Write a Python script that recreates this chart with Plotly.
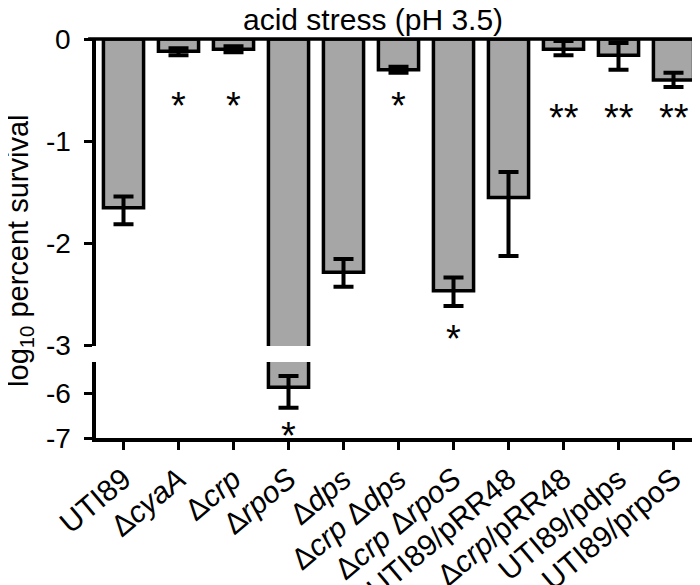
import plotly.graph_objects as go

categories = ["UTI89", "Δ<i>cyaA</i>", "Δ<i>crp</i>", "Δ<i>rpoS</i>", "Δ<i>dps</i>",
              "Δ<i>crp</i> Δ<i>dps</i>", "Δ<i>crp</i> Δ<i>rpoS</i>", "UTI89/pRR48",
              "Δ<i>crp</i>/pRR48", "UTI89/pdps", "UTI89/prpoS"]
values = [-1.65, -0.12, -0.10, -5.87, -2.28, -0.30, -2.46, -1.55, -0.10, -0.16, -0.40]
err_plus = [0.11, 0.03, 0.03, 0.25, 0.13, 0.03, 0.13, 0.25, 0.08, 0.12, 0.07]
err_minus = [0.16, 0.04, 0.03, 0.46, 0.14, 0.03, 0.15, 0.57, 0.06, 0.14, 0.07]
stars = ["", "*", "*", "*", "", "*", "*", "", "**", "**", "**"]
star_y = [None, -0.57, -0.57, -6.75, None, -0.57, -2.84, None, -0.68, -0.68, -0.68]

top_ticks = [0, -1, -2, -3]
bottom_ticks = [-6, -7]
break_low = -3
break_high = -5.31

FONT = "Liberation Sans, Arial, sans-serif"
GRAY = "#a6a6a6"

x = list(range(len(categories)))
broken = [v < break_low for v in values]

top_y = values
top_ep = [0 if b else e for b, e in zip(broken, err_plus)]
top_em = [0 if b else e for b, e in zip(broken, err_minus)]
bot_y = [v if b else None for b, v in zip(broken, values)]

fig = go.Figure()
fig.add_trace(go.Bar(
    x=x, y=top_y, width=0.73, marker=dict(color=GRAY, line=dict(color="black", width=3.5)),
    error_y=dict(type="data", symmetric=False, array=top_ep, arrayminus=top_em,
                 color="black", thickness=4, width=10),
    xaxis="x", yaxis="y", showlegend=False))
fig.add_trace(go.Bar(
    x=x, y=bot_y, width=0.73, marker=dict(color=GRAY, line=dict(color="black", width=3.5)),
    error_y=dict(type="data", symmetric=False, array=err_plus, arrayminus=err_minus,
                 color="black", thickness=4, width=10),
    xaxis="x", yaxis="y2", showlegend=False))

annotations = []
for xi, s, sy, b in zip(x, stars, star_y, broken):
    if s:
        annotations.append(dict(x=xi, y=sy, xref="x", yref="y2" if b else "y", text=s,
                                showarrow=False, font=dict(family=FONT, size=38, color="black"),
                                xanchor="center", yanchor="middle", yshift=-9))

# y tick labels (placed further from the axis than plotly's default)
for ref, ticks in (("y", top_ticks), ("y2", bottom_ticks)):
    for t in ticks:
        annotations.append(dict(x=-0.038, y=t, xref="paper", yref=ref, text=str(t),
                                xanchor="right", yanchor="middle", showarrow=False,
                                font=dict(family=FONT, size=28, color="black")))

annotations.append(dict(x=-0.1256, y=0.469, xref="paper", yref="paper",
                        xanchor="center", yanchor="middle",
                        text="log<sub>10</sub> percent survival", textangle=-90,
                        showarrow=False, font=dict(family=FONT, size=29, color="black")))

annotations.append(dict(x=0.4577, y=1.0496, xref="paper", yref="paper",
                        xanchor="center", yanchor="middle",
                        text="acid stress (pH 3.5)", showarrow=False,
                        font=dict(family=FONT, size=30, color="black")))

axis_common = dict(ticks="outside", ticklen=8, tickwidth=3, tickcolor="black",
                   showline=True, linewidth=3.5, linecolor="black", showgrid=False,
                   zeroline=False, automargin=False)

fig.update_layout(
    width=700, height=585,
    margin=dict(l=88, r=7, t=31, b=155),
    paper_bgcolor="white", plot_bgcolor="white",
    xaxis=dict(domain=[0, 1], anchor="y2", range=[-0.5, 10.5],
               tickvals=x, ticktext=categories, tickangle=-40,
               tickfont=dict(family=FONT, size=30, color="black"), **axis_common),
    yaxis=dict(domain=[0.2306, 1], anchor="x", range=[break_low, 0],
               tickvals=top_ticks, showticklabels=False, **axis_common),
    yaxis2=dict(domain=[0, 0.1905], anchor="x", range=[-7, break_high],
                tickvals=bottom_ticks, showticklabels=False, **axis_common),
    shapes=[dict(type="line", xref="paper", yref="paper", x0=-0.013, x1=1, y0=1, y1=1,
                 line=dict(color="black", width=3.5))],
    annotations=annotations,
)

fig.write_html("out.html")
